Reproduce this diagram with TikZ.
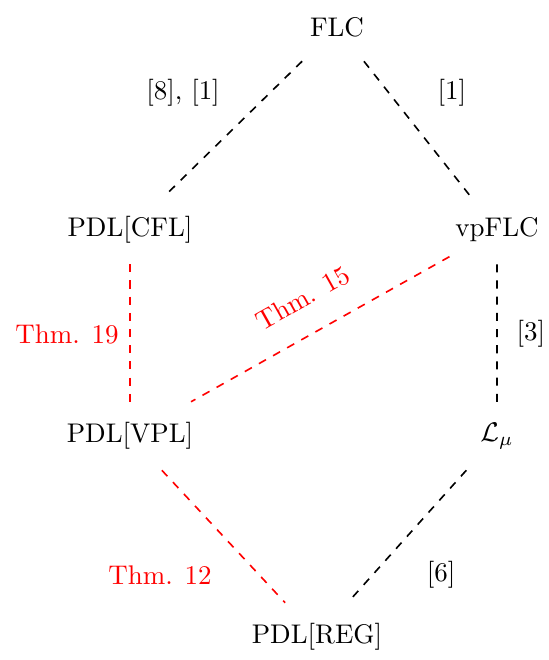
\documentclass[tikz,border=0pt]{standalone}
\usepackage{amsmath}
\usepackage{xcolor}
\usetikzlibrary{positioning}
\definecolor{ours}{HTML}{FF0000}

\begin{document}
\begin{tikzpicture}[scale=0.97,
  logic/.style={minimum height=25pt, minimum width=30pt, inner sep=2pt},
  known/.style={dashed, semithick, black},
  newres/.style={dashed, semithick, ours},
  cite/.style={font=\normalsize},
  thm/.style={font=\normalsize, ours}]
  \useasboundingbox (0,0) rectangle (7.36,8.864);

  % logics
  \node[logic] (flc) at (4.526,8.501) {FLC};
  \node[logic] (cfl) at (1.746,5.775) {PDL[CFL]};
  \node[logic] (vpflc) at (6.675,5.775) {vpFLC};
  \node[logic] (vpl) at (1.746,3.008) {PDL[VPL]};
  \node[logic] (lmu) at (6.675,3.008) {$\mathcal{L}_\mu$};
  \node[logic] (reg) at (4.257,0.309) {PDL[REG]};

  % known inclusions
  \draw[known] (flc) -- (cfl);
  \draw[known] (flc) -- (vpflc);
  \draw[known] (vpflc) -- (lmu);
  \draw[known] (lmu) -- (reg);
  \node[cite] (c81) at (2.458,7.614) {[8], [1]};
  \node[cite] (c1) at (6.070,7.614) {[1]};
  \node[cite] (c3) at (7.131,4.378) {[3]};
  \node[cite] (c6) at (5.923,1.142) {[6]};

  % new results
  \draw[newres] (cfl) -- (vpl);
  \draw[newres] (vpflc) -- node[thm, sloped, above=6pt] (t15) {Thm. 15} (vpl);
  \draw[newres] (vpl) -- (reg);
  \node[thm] (t19) at (0.900,4.378) {Thm. 19};
  \node[thm] (t12) at (2.149,1.142) {Thm. 12};
\end{tikzpicture}
\end{document}
